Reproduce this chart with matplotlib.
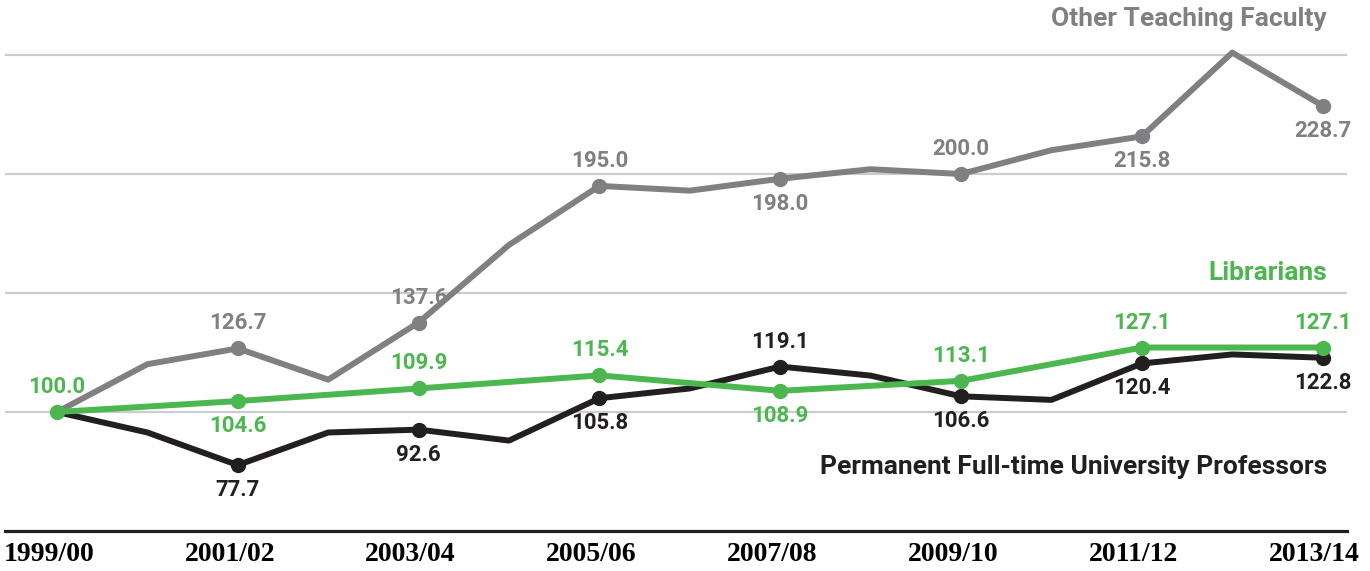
import matplotlib.pyplot as plt
import matplotlib.transforms as mtransforms

years = ["1999/00", "2000/01", "2001/02", "2002/03", "2003/04", "2004/05", "2005/06",
         "2006/07", "2007/08", "2008/09", "2009/10", "2010/11", "2011/12", "2012/13", "2013/14"]

other_faculty = [100.0, 120.1, 126.7, 113.6, 137.6, 170.2, 195.0, 193.0,
                 198.0, 202.0, 200.0, 210.0, 215.8, 251.0, 228.7]
professors = [100.0, 91.4, 77.7, 91.4, 92.6, 88.0, 105.8, 109.9,
              119.1, 115.3, 106.6, 105.1, 120.4, 124.2, 122.8]
lib_years = ["1999/00", "2001/02", "2003/04", "2005/06", "2007/08", "2009/10", "2011/12", "2013/14"]
librarians = [100.0, 104.6, 109.9, 115.4, 108.9, 113.1, 127.1, 127.1]

# which points carry a value label, and on which side
other_labels = {"2001/02": 1, "2003/04": 1, "2005/06": 1, "2007/08": -1,
                "2009/10": 1, "2011/12": -1, "2013/14": -1}
prof_labels = {"2001/02": -1, "2003/04": -1, "2005/06": -1, "2007/08": 1,
               "2009/10": -1, "2011/12": -1, "2013/14": -1}
lib_labels = {"1999/00": 1, "2001/02": -1, "2003/04": 1, "2005/06": 1,
              "2007/08": -1, "2009/10": 1, "2011/12": 1, "2013/14": 1}

GRAY = "#808083"
GREEN = "#4cb74f"
BLACK = "#231f20"
SANS = ["Roboto", "DejaVu Sans"]

fig = plt.figure(figsize=(13.7, 5.71), dpi=100)
ax = fig.add_axes([0.00365, 0.070, 0.9796, 0.930])

idx = {y: i for i, y in enumerate(years)}


def draw_series(ax, labels_x, values, color, label_side):
    xs = [idx[y] for y in labels_x]
    ax.plot(xs, values, color=color, linewidth=4.3, solid_capstyle="round",
            solid_joinstyle="round", zorder=3)
    mx = [idx[y] for y in label_side]
    my = [values[labels_x.index(y)] for y in label_side]
    ax.plot(mx, my, "o", color=color, markersize=10, zorder=4)
    for y, side in label_side.items():
        v = values[labels_x.index(y)]
        ax.annotate(f"{v:.1f}", (idx[y], v), xytext=(0, 18 * side),
                    textcoords="offset points", ha="center", va="center",
                    fontsize=16, fontweight="bold", color=color, family=SANS, zorder=5)


draw_series(ax, years, other_faculty, GRAY, other_labels)
draw_series(ax, years, professors, BLACK, prof_labels)
draw_series(ax, lib_years, librarians, GREEN, lib_labels)

ax.text(14.05, 265.1, "Other Teaching Faculty", ha="right", va="center",
        fontsize=19, fontweight="bold", color=GRAY, family=SANS)
ax.text(14.05, 158.4, "Librarians", ha="right", va="center",
        fontsize=19, fontweight="bold", color=GREEN, family=SANS)
ax.text(14.05, 76.9, "Permanent Full-time University Professors", ha="right", va="center",
        fontsize=19, fontweight="bold", color=BLACK, family=SANS)

ax.set_xlim(-0.575, 14.27)
ax.set_ylim(50, 273.1)
ax.set_yticks([100, 150, 200, 250])
ax.yaxis.grid(True, color="#cccccc", linewidth=1.6)
ax.set_axisbelow(True)
ax.tick_params(axis="y", left=False, labelleft=False)

tick_pos = [idx[y] for y in years[::2]]
ax.set_xticks(tick_pos)
ax.set_xticklabels(years[::2], fontsize=20, fontweight="bold",
                   family=["Liberation Serif", "DejaVu Serif"])
ax.tick_params(axis="x", length=0, pad=8)
shift = mtransforms.ScaledTranslation(-8 / 100, 0, fig.dpi_scale_trans)
for lbl in ax.get_xticklabels():
    lbl.set_transform(lbl.get_transform() + shift)

for s in ["top", "left", "right"]:
    ax.spines[s].set_visible(False)
ax.spines["bottom"].set_color(BLACK)
ax.spines["bottom"].set_linewidth(2.3)

fig.savefig("out.png", dpi=100)
